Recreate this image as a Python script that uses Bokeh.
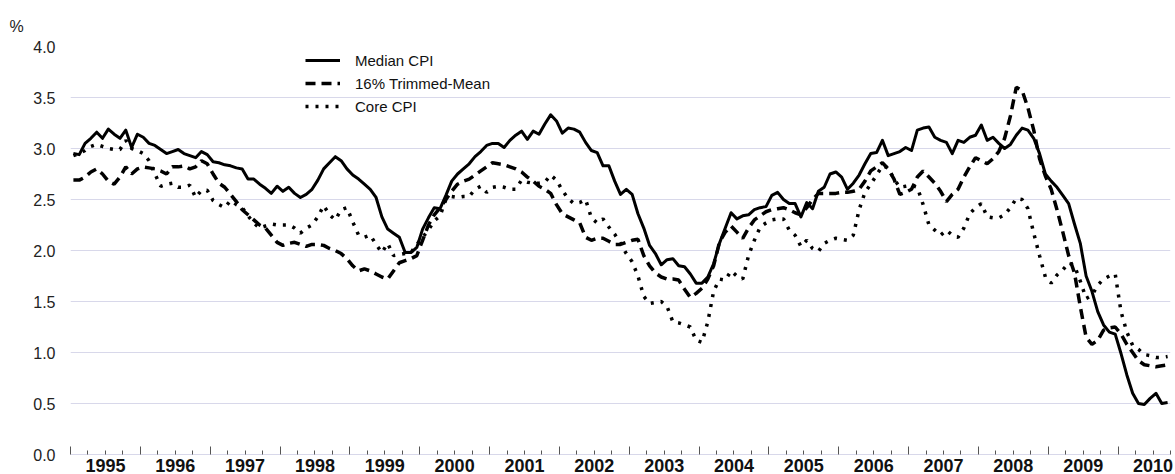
import pandas as pd
from bokeh.plotting import figure
from bokeh.models import (Range1d, LinearAxis, FixedTicker, Legend, LegendItem,
                          ColumnDataSource, Grid)
from bokeh.embed import file_html
from bokeh.resources import INLINE

# ---------------- data (12-month % change, monthly from Jan 1995) ----------------
start_month = "1995-01-01"

median_cpi = [
    2.95, 2.94, 3.05, 3.10, 3.16, 3.10, 3.19, 3.14, 3.10, 3.18, 3.01, 3.14,  # 1995
    3.11, 3.05, 3.03, 2.99, 2.95, 2.97, 2.99, 2.95, 2.93, 2.91, 2.97, 2.94,  # 1996
    2.87, 2.86, 2.84, 2.83, 2.81, 2.80, 2.70, 2.70, 2.65, 2.61, 2.56, 2.63,  # 1997
    2.58, 2.62, 2.56, 2.52, 2.55, 2.60, 2.69, 2.80, 2.86, 2.92, 2.88, 2.80,  # 1998
    2.74, 2.70, 2.65, 2.60, 2.52, 2.33, 2.21, 2.17, 2.13, 1.98, 1.98, 2.03,  # 1999
    2.21, 2.32, 2.42, 2.41, 2.54, 2.68, 2.75, 2.80, 2.85, 2.92, 2.97, 3.03,  # 2000
    3.05, 3.05, 3.01, 3.08, 3.13, 3.17, 3.09, 3.17, 3.14, 3.24, 3.33, 3.27,  # 2001
    3.15, 3.20, 3.19, 3.16, 3.06, 2.98, 2.96, 2.83, 2.83, 2.68, 2.55, 2.60,  # 2002
    2.55, 2.36, 2.22, 2.05, 1.97, 1.86, 1.91, 1.92, 1.85, 1.84, 1.77, 1.68,  # 2003
    1.68, 1.74, 1.87, 2.07, 2.22, 2.37, 2.31, 2.34, 2.35, 2.40, 2.42, 2.43,  # 2004
    2.54, 2.57, 2.50, 2.46, 2.46, 2.33, 2.47, 2.41, 2.58, 2.62, 2.75, 2.77,  # 2005
    2.72, 2.60, 2.66, 2.74, 2.85, 2.95, 2.96, 3.08, 2.93, 2.95, 2.97, 3.01,  # 2006
    2.98, 3.18, 3.20, 3.21, 3.11, 3.08, 3.06, 2.95, 3.08, 3.06, 3.11, 3.13,  # 2007
    3.23, 3.08, 3.11, 3.05, 3.00, 3.04, 3.13, 3.20, 3.18, 3.10, 2.95, 2.75,  # 2008
    2.68, 2.62, 2.54, 2.46, 2.26, 2.07, 1.75, 1.60, 1.40, 1.27, 1.20, 1.18,  # 2009
    0.99, 0.78, 0.60, 0.50, 0.49, 0.55, 0.60, 0.50, 0.51,                    # 2010
]

trimmed_mean = [
    2.69, 2.69, 2.72, 2.77, 2.80, 2.75, 2.68, 2.65, 2.72, 2.82, 2.75, 2.80,  # 1995
    2.82, 2.81, 2.80, 2.78, 2.75, 2.82, 2.82, 2.83, 2.80, 2.82, 2.88, 2.85,  # 1996
    2.75, 2.66, 2.62, 2.55, 2.48, 2.40, 2.35, 2.30, 2.25, 2.22, 2.15, 2.08,  # 1997
    2.05, 2.07, 2.08, 2.06, 2.04, 2.06, 2.06, 2.05, 2.02, 2.00, 1.97, 1.92,  # 1998
    1.85, 1.80, 1.82, 1.80, 1.77, 1.74, 1.72, 1.80, 1.88, 1.90, 1.92, 1.95,  # 1999
    2.10, 2.25, 2.35, 2.42, 2.50, 2.58, 2.65, 2.68, 2.70, 2.74, 2.78, 2.82,  # 2000
    2.86, 2.85, 2.84, 2.82, 2.80, 2.77, 2.72, 2.68, 2.63, 2.60, 2.56, 2.45,  # 2001
    2.36, 2.33, 2.30, 2.27, 2.13, 2.10, 2.12, 2.12, 2.09, 2.06, 2.06, 2.08,  # 2002
    2.10, 2.11, 1.95, 1.85, 1.78, 1.74, 1.72, 1.72, 1.71, 1.62, 1.54, 1.58,  # 2003
    1.63, 1.72, 1.85, 2.08, 2.18, 2.24, 2.18, 2.12, 2.22, 2.30, 2.34, 2.38,  # 2004
    2.40, 2.41, 2.42, 2.40, 2.37, 2.35, 2.42, 2.50, 2.56, 2.56, 2.56, 2.56,  # 2005
    2.57, 2.57, 2.58, 2.60, 2.68, 2.78, 2.82, 2.86, 2.80, 2.70, 2.55, 2.57,  # 2006
    2.60, 2.72, 2.78, 2.72, 2.66, 2.58, 2.48, 2.55, 2.60, 2.72, 2.82, 2.91,  # 2007
    2.88, 2.85, 2.90, 2.97, 3.10, 3.32, 3.60, 3.57, 3.40, 3.18, 2.90, 2.73,  # 2008
    2.60, 2.40, 2.18, 1.95, 1.78, 1.45, 1.15, 1.08, 1.12, 1.22, 1.24, 1.25,  # 2009
    1.18, 1.08, 1.00, 0.92, 0.88, 0.87, 0.86, 0.87, 0.88,                    # 2010
]

core_cpi = [
    2.93, 2.95, 2.98, 3.02, 3.04, 3.02, 3.00, 2.99, 2.99, 3.08, 3.00, 2.98,  # 1995
    2.95, 2.88, 2.75, 2.63, 2.65, 2.66, 2.62, 2.62, 2.64, 2.52, 2.59, 2.59,  # 1996
    2.49, 2.45, 2.42, 2.49, 2.45, 2.42, 2.34, 2.27, 2.22, 2.24, 2.26, 2.25,  # 1997
    2.25, 2.25, 2.22, 2.17, 2.22, 2.25, 2.33, 2.44, 2.35, 2.30, 2.40, 2.42,  # 1998
    2.28, 2.15, 2.13, 2.15, 2.06, 1.98, 2.07, 1.95, 1.96, 1.97, 1.98, 2.06,  # 1999
    2.13, 2.20, 2.29, 2.34, 2.50, 2.53, 2.52, 2.53, 2.53, 2.60, 2.63, 2.57,  # 2000
    2.62, 2.63, 2.62, 2.60, 2.60, 2.69, 2.67, 2.66, 2.66, 2.67, 2.74, 2.69,  # 2001
    2.59, 2.51, 2.46, 2.47, 2.50, 2.32, 2.27, 2.31, 2.23, 2.16, 2.07, 1.97,  # 2002
    1.89, 1.75, 1.55, 1.48, 1.49, 1.50, 1.45, 1.30, 1.29, 1.27, 1.25, 1.12,  # 2003
    1.10, 1.30, 1.60, 1.72, 1.71, 1.80, 1.75, 1.72, 1.95, 2.10, 2.23, 2.27,  # 2004
    2.30, 2.31, 2.31, 2.20, 2.15, 2.04, 2.10, 2.02, 1.99, 2.07, 2.10, 2.12,  # 2005
    2.11, 2.10, 2.15, 2.40, 2.57, 2.65, 2.74, 2.83, 2.81, 2.70, 2.62, 2.63,  # 2006
    2.64, 2.62, 2.45, 2.25, 2.20, 2.15, 2.20, 2.15, 2.13, 2.22, 2.36, 2.42,  # 2007
    2.46, 2.33, 2.32, 2.32, 2.35, 2.42, 2.51, 2.50, 2.41, 2.17, 1.95, 1.74,  # 2008
    1.68, 1.76, 1.81, 1.88, 1.85, 1.70, 1.53, 1.56, 1.66, 1.72, 1.75, 1.77,  # 2009
    1.40, 1.20, 1.07, 1.03, 0.98, 0.97, 0.95, 0.95, 0.96,                    # 2010
]

series_names = ["Median CPI", "16% Trimmed-Mean", "Core CPI"]
years = list(range(1995, 2011))
year_labels = [str(y) for y in years]
y_ticks = [0.0, 0.5, 1.0, 1.5, 2.0, 2.5, 3.0, 3.5, 4.0]
y_tick_labels = ["0.0", "0.5", "1.0", "1.5", "2.0", "2.5", "3.0", "3.5", "4.0"]
unit_label = "%"

# ---------------- build ----------------
months = pd.date_range(start_month, periods=len(median_cpi), freq="MS")
xpos = [d.year + (d.month - 0.5) / 12.0 for d in months]
src = ColumnDataSource(dict(x=xpos, median=median_cpi, trimmed=trimmed_mean, core=core_cpi))

FONT = "Liberation Sans"
GRID = "#d8d8ea"
TICK = "#555555"

x_end = years[-1] + 0.75
p = figure(frame_width=1100, frame_height=408,
           x_range=Range1d(years[0], x_end), y_range=Range1d(y_ticks[0], y_ticks[-1]),
           x_axis_type=None, y_axis_type=None,
           output_backend="svg", toolbar_location=None,
           min_border_left=70, min_border_right=5, min_border_top=46, min_border_bottom=0)
p.outline_line_color = None
p.background_fill_color = "white"
p.border_fill_color = "white"

# title "%"
p.title.text = unit_label
p.title.align = "left"
p.title.offset = -61
p.title.text_font = FONT
p.title.text_font_size = "16px"
p.title.text_font_style = "normal"
p.title.text_color = "#222222"
p.title.standoff = 24

# y axis
yticker = FixedTicker(ticks=y_ticks)
yaxis = LinearAxis(ticker=yticker,
                   major_label_overrides=dict(zip(y_ticks, y_tick_labels)),
                   axis_line_color=None, major_tick_line_color=None, minor_tick_line_color=None,
                   major_label_text_font=FONT, major_label_text_font_size="16px",
                   major_label_text_color="#222222", major_label_standoff=9)
p.add_layout(yaxis, "left")
p.add_layout(Grid(dimension=1, ticker=yticker, grid_line_color=GRID, grid_line_width=1))

# x axis 1: quarter ticks only (no labels)
year_starts = [float(y) for y in years]
quarter_ticks = [y + q / 4.0 for y in years for q in (1, 2, 3) if y + q / 4.0 <= x_end]
xaxis_q = LinearAxis(ticker=FixedTicker(ticks=[], minor_ticks=quarter_ticks),
                     axis_line_color=GRID, axis_line_width=1,
                     major_tick_line_color=None, major_tick_in=0, major_tick_out=0,
                     minor_tick_in=4, minor_tick_out=0, minor_tick_line_color=TICK,
                     major_label_standoff=0)
p.add_layout(xaxis_q, "below")

# x axis 2: year-start ticks + year labels centred in each year
mid_years = [y + 0.5 for y in years]
xaxis_y = LinearAxis(ticker=FixedTicker(ticks=mid_years, minor_ticks=year_starts),
                     major_label_overrides=dict(zip(mid_years, year_labels)),
                     axis_line_color=None, major_tick_line_color=None,
                     major_tick_in=0, major_tick_out=0,
                     minor_tick_in=8, minor_tick_out=0, minor_tick_line_color=TICK,
                     major_label_standoff=4,
                     major_label_text_font=FONT, major_label_text_font_style="bold",
                     major_label_text_font_size="18px", major_label_text_color="#111111")
p.add_layout(xaxis_y, "below")

# lines
r1 = p.line("x", "median", source=src, line_color="black", line_width=3, line_join="round")
r2 = p.line("x", "trimmed", source=src, line_color="black", line_width=3.5, line_dash="10 6")
r3 = p.line("x", "core", source=src, line_color="black", line_width=3.5, line_dash="3 7")

legend = Legend(items=[LegendItem(label=series_names[0], renderers=[r1]),
                       LegendItem(label=series_names[1], renderers=[r2]),
                       LegendItem(label=series_names[2], renderers=[r3])],
                location=(235, 338), border_line_color=None, background_fill_alpha=0,
                padding=0, margin=0, spacing=3, glyph_width=35, glyph_height=20,
                label_height=20, label_standoff=15,
                label_text_font=FONT, label_text_font_size="15px", label_text_color="#111111")
p.add_layout(legend)

open("out.html", "w").write(file_html(p, INLINE))
